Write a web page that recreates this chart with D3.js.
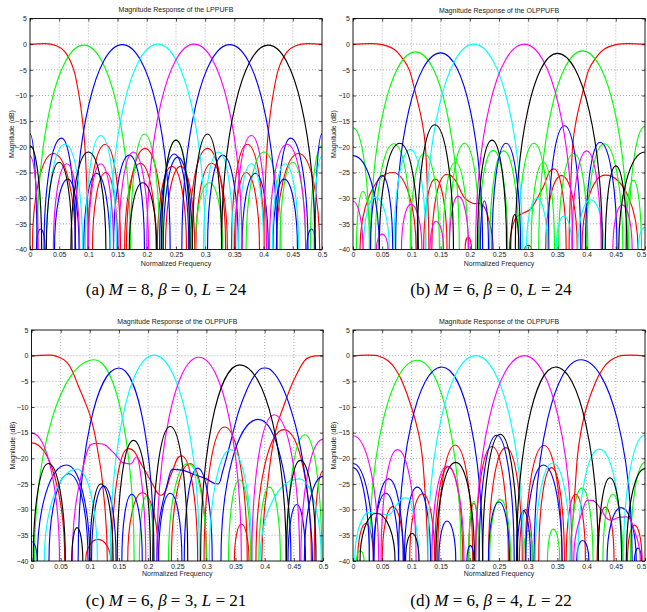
<!DOCTYPE html>
<html><head><meta charset="utf-8">
<script src="https://cdn.jsdelivr.net/npm/d3@7"></script>
<style>
body{margin:0;background:#fff}
svg{display:block}
.tk text{font-family:"Liberation Sans",Arial,sans-serif;font-size:7px;fill:#222}
.lbl{font-family:"Liberation Sans",Arial,sans-serif;font-size:7px;fill:#222}
.cap{font-family:"Liberation Serif","Times New Roman",serif;font-size:17px;fill:#000}
</style></head><body>
<svg id="chart" width="647" height="612"></svg>
<script>
// ---------- axis ticks ----------
const freqTicks = [0,0.05,0.1,0.15,0.2,0.25,0.3,0.35,0.4,0.45,0.5];
const freqTickLabels = ["0","0.05","0.1","0.15","0.2","0.25","0.3","0.35","0.4","0.45","0.5"];
const dbTicks = [5,0,-5,-10,-15,-20,-25,-30,-35,-40];
const dbTickLabels = ["5","0","\u22125","\u221210","\u221215","\u221220","\u221225","\u221230","\u221235","\u221240"];
const titles = ["Magnitude Response of the LPPUFB","Magnitude Response of the OLPPUFB","Magnitude Response of the OLPPUFB","Magnitude Response of the OLPPUFB"];
const panelLetters = ["a","b","c","d"];
const paramM = ["8","6","6","6"];
const paramBeta = ["0","0","3","4"];
const paramL = ["24","24","21","22"];
const seriesColors = {red:"#ff0000",green:"#00ff00",blue:"#0000ff",cyan:"#00ffff",magenta:"#ff00ff",black:"#000000"};

// ---------- data: each lobe = list of [normalized frequency, dB]; -40 = drops below floor ----------
// Panel (a)
const aRed = [
 [[0,0],[0.025,0.1],[0.045,-0.3],[0.06,-1.5],[0.075,-5],[0.084,-10],[0.09,-15],[0.094,-20],[0.098,-30],[0.1,-40]],
 [[0.004,-40],[0.04,-21.3],[0.078,-40]],
 [[0.099,-40],[0.129,-19.5],[0.155,-40]],
 [[0.107,-40],[0.13,-25],[0.15,-40]],
 [[0.162,-40],[0.189,-23.2],[0.216,-40]],
 [[0.165,-40],[0.197,-20.3],[0.228,-40]],
 [[0.218,-40],[0.243,-23.8],[0.268,-40]],
 [[0.232,-40],[0.258,-23.8],[0.282,-40]],
 [[0.272,-40],[0.304,-20.3],[0.335,-40]],
 [[0.284,-40],[0.311,-23.2],[0.338,-40]],
 [[0.35,-40],[0.37,-25],[0.393,-40]],
 [[0.345,-40],[0.372,-19.5],[0.401,-40]],
 [[0.422,-40],[0.46,-21.3],[0.496,-40]],
 [[0.4,-40],[0.402,-30],[0.406,-20],[0.41,-15],[0.416,-10],[0.425,-5],[0.44,-1.5],[0.455,-0.3],[0.475,0.1],[0.5,0]]
];
const aGreen = [
 [[0.012,-40],[0.092,-0.2],[0.172,-40]],
 [[0.172,-40],[0.196,-17.5],[0.222,-40]],
 [[0.226,-40],[0.25,-18.7],[0.275,-40]],
 [[0.283,-40],[0.307,-27],[0.33,-40]],
 [[0.37,-40],[0.401,-21],[0.43,-40]],
 [[0.428,-40],[0.45,-23],[0.472,-40]],
 [[0.48,-40],[0.5,-19.8]]
];
const aBlue = [
 [[0,-17.5],[0.012,-40]],
 [[0.011,-40],[0.018,-36],[0.026,-40]],
 [[0.024,-40],[0.054,-18.3],[0.078,-40]],
 [[0.042,-40],[0.065,-26.3],[0.084,-40]],
 [[0.077,-40],[0.158,-0.1],[0.24,-40]],
 [[0.092,-40],[0.114,-25.2],[0.137,-40]],
 [[0.143,-40],[0.17,-21.6],[0.196,-40]],
 [[0.222,-40],[0.247,-21.4],[0.272,-40]],
 [[0.228,-40],[0.253,-22],[0.278,-40]],
 [[0.26,-40],[0.342,-0.1],[0.423,-40]],
 [[0.304,-40],[0.33,-21.6],[0.357,-40]],
 [[0.363,-40],[0.386,-25.2],[0.408,-40]],
 [[0.416,-40],[0.435,-26.3],[0.458,-40]],
 [[0.422,-40],[0.446,-18.3],[0.476,-40]],
 [[0.474,-40],[0.482,-36],[0.489,-40]],
 [[0.488,-40],[0.5,-17.5]]
];
const aCyan = [
 [[0.028,-40],[0.06,-19.5],[0.09,-40]],
 [[0.095,-40],[0.121,-17.8],[0.148,-40]],
 [[0.137,-40],[0.219,0],[0.3,-40]],
 [[0.297,-40],[0.323,-21],[0.348,-40]],
 [[0.357,-40],[0.379,-23.3],[0.4,-40]],
 [[0.415,-40],[0.437,-23.3],[0.46,-40]],
 [[0.486,-40],[0.5,-21.8]]
];
const aMagenta = [
 [[0,-21.8],[0.014,-40]],
 [[0.04,-40],[0.063,-23.3],[0.085,-40]],
 [[0.1,-40],[0.121,-23.3],[0.143,-40]],
 [[0.152,-40],[0.177,-21],[0.203,-40]],
 [[0.2,-40],[0.281,0],[0.363,-40]],
 [[0.352,-40],[0.379,-17.8],[0.405,-40]],
 [[0.41,-40],[0.44,-19.5],[0.472,-40]]
];
const aBlack = [
 [[0,-19.8],[0.02,-40]],
 [[0.028,-40],[0.05,-23],[0.072,-40]],
 [[0.07,-40],[0.1,-21],[0.13,-40]],
 [[0.17,-40],[0.193,-27],[0.217,-40]],
 [[0.225,-40],[0.25,-18.7],[0.274,-40]],
 [[0.278,-40],[0.304,-17.5],[0.328,-40]],
 [[0.328,-40],[0.408,-0.2],[0.488,-40]]
];
// Panel (b)
const bRed = [
 [[0,0],[0.03,0.1],[0.05,-0.1],[0.07,-1],[0.085,-2.8],[0.097,-5.2],[0.108,-10],[0.118,-15],[0.124,-20],[0.128,-30],[0.13,-40]],
 [[0.012,-40],[0.068,-25],[0.108,-40]],
 [[0.121,-40],[0.141,-26.3],[0.161,-40]],
 [[0.135,-40],[0.16,-25.4],[0.175,-26.5],[0.19,-29.8],[0.205,-31],[0.222,-31.3],[0.232,-34],[0.24,-40]],
 [[0.192,-40],[0.197,-37.6],[0.203,-40]],
 [[0.268,-40],[0.276,-34.5],[0.29,-33],[0.305,-32],[0.325,-28],[0.344,-24.3],[0.365,-40]],
 [[0.294,-40],[0.3,-39.2],[0.306,-40]],
 [[0.33,-40],[0.357,-25.6],[0.384,-40]],
 [[0.392,-40],[0.432,-25.5],[0.488,-40]],
 [[0.37,-40],[0.372,-30],[0.376,-20],[0.382,-15],[0.392,-10],[0.403,-5.2],[0.415,-2.8],[0.43,-1],[0.45,-0.1],[0.47,0.1],[0.5,0]]
];
const bGreen = [
 [[0,-16.3],[0.028,-40]],
 [[0.006,-40],[0.017,-28.7],[0.03,-40]],
 [[0.03,-40],[0.107,-1.5],[0.182,-40]],
 [[0.038,-40],[0.07,-19.4],[0.1,-40]],
 [[0.098,-40],[0.122,-21.3],[0.148,-40]],
 [[0.154,-40],[0.175,-23],[0.197,-40]],
 [[0.165,-40],[0.191,-19.3],[0.217,-40]],
 [[0.215,-40],[0.24,-20.7],[0.265,-40]],
 [[0.234,-40],[0.258,-20.8],[0.284,-40]],
 [[0.283,-40],[0.31,-19.3],[0.336,-40]],
 [[0.305,-40],[0.326,-23],[0.345,-40]],
 [[0.318,-40],[0.393,-1.3],[0.47,-40]],
 [[0.352,-40],[0.378,-21.3],[0.402,-40]],
 [[0.4,-40],[0.43,-19.4],[0.462,-40]],
 [[0.467,-40],[0.48,-26.5],[0.494,-40]],
 [[0.472,-40],[0.5,-16]]
];
const bBlue = [
 [[0,-21.7],[0.045,-40]],
 [[0.03,-40],[0.05,-25.6],[0.068,-40]],
 [[0.073,-40],[0.15,-1.7],[0.222,-40]],
 [[0.218,-40],[0.225,-30.5],[0.232,-40]],
 [[0.238,-40],[0.262,-19.3],[0.287,-40]],
 [[0.334,-40],[0.362,-15.9],[0.39,-40]],
 [[0.398,-40],[0.423,-19.1],[0.452,-40]]
];
const bCyan = [
 [[0.018,-40],[0.038,-29.8],[0.062,-40]],
 [[0.07,-40],[0.098,-20.5],[0.125,-40]],
 [[0.124,-40],[0.207,0],[0.29,-40]],
 [[0.297,-40],[0.315,-30],[0.333,-40]],
 [[0.348,-40],[0.361,-33.5],[0.375,-40]],
 [[0.385,-40],[0.407,-30.3],[0.43,-40]],
 [[0.488,-40],[0.5,-35.7]]
];
const bMagenta = [
 [[0,-30.6],[0.017,-40]],
 [[0.04,-40],[0.05,-37],[0.06,-40]],
 [[0.083,-40],[0.099,-31.2],[0.118,-40]],
 [[0.132,-40],[0.142,-34.5],[0.155,-40]],
 [[0.165,-40],[0.18,-29.6],[0.198,-40]],
 [[0.21,-40],[0.293,0],[0.376,-40]],
 [[0.375,-40],[0.4,-20.8],[0.425,-40]],
 [[0.445,-40],[0.461,-31.3],[0.478,-40]]
];
const bBlack = [
 [[0.045,-40],[0.08,-19.3],[0.112,-40]],
 [[0.11,-40],[0.14,-15.7],[0.172,-40]],
 [[0.213,-40],[0.238,-18.7],[0.263,-40]],
 [[0.27,-40],[0.277,-33.2],[0.284,-40]],
 [[0.278,-40],[0.35,-1.8],[0.427,-40]],
 [[0.432,-40],[0.45,-23.7],[0.469,-40]],
 [[0.455,-40],[0.5,-21]]
];
// Panel (c)
const cRed = [
 [[0,0],[0.03,0.1],[0.045,-0.2],[0.06,-1.2],[0.07,-3],[0.08,-5.8],[0.09,-8.5],[0.1,-11.5],[0.108,-15],[0.115,-19.5],[0.122,-25],[0.13,-40]],
 [[0,-17],[0.057,-40]],
 [[0.093,-40],[0.114,-35.8],[0.136,-40]],
 [[0.138,-40],[0.166,-18.1],[0.19,-21.5],[0.21,-25.5],[0.222,-27.2],[0.24,-23],[0.257,-19.5],[0.285,-40]],
 [[0.165,-40],[0.19,-26.7],[0.218,-40]],
 [[0.24,-40],[0.272,-21],[0.3,-40]],
 [[0.296,-40],[0.331,-13.9],[0.37,-40]],
 [[0.348,-40],[0.36,-32.8],[0.373,-40]],
 [[0.385,-40],[0.433,-14.4],[0.48,-40]],
 [[0.485,-40],[0.5,-22.5]],
 [[0.395,-40],[0.405,-25],[0.418,-15],[0.432,-10],[0.449,-5],[0.468,-1],[0.48,-0.2],[0.5,0]]
];
const cGreen = [
 [[0.005,-40],[0.108,-0.8],[0.176,-40]],
 [[0.185,-40],[0.197,-27.3],[0.21,-40]],
 [[0.235,-40],[0.268,-21],[0.3,-40]],
 [[0.338,-40],[0.357,-24.2],[0.376,-40]],
 [[0.39,-40],[0.408,-25.6],[0.427,-40]],
 [[0.438,-40],[0.469,-15.4],[0.498,-40]]
];
const cBlue = [
 [[0,-36.2],[0.01,-40]],
 [[0.01,-40],[0.06,-21.3],[0.1,-40]],
 [[0.03,-40],[0.064,-23],[0.097,-40]],
 [[0.08,-40],[0.15,-2.4],[0.21,-40]],
 [[0.103,-40],[0.124,-25.4],[0.145,-40]],
 [[0.155,-40],[0.172,-27],[0.19,-40]],
 [[0.218,-40],[0.238,-26.8],[0.258,-40]],
 [[0.215,-40],[0.235,-24],[0.25,-22.2],[0.28,-23.2],[0.3,-24],[0.32,-25],[0.328,-22.5],[0.34,-17.5],[0.355,-11],[0.37,-6.5],[0.385,-3.5],[0.4,-2.4],[0.415,-3.3],[0.43,-6],[0.445,-10.5],[0.458,-16],[0.47,-24],[0.478,-32],[0.482,-40]],
 [[0.262,-40],[0.285,-21.9],[0.31,-40]],
 [[0.325,-40],[0.389,-12.4],[0.445,-40]],
 [[0.44,-40],[0.455,-29],[0.47,-40]],
 [[0.468,-40],[0.5,-23.5]]
];
const cCyan = [
 [[0.022,-40],[0.078,-22.1],[0.113,-40]],
 [[0.135,-40],[0.21,0.1],[0.288,-40]],
 [[0.305,-40],[0.342,-18.3],[0.378,-40]],
 [[0.392,-40],[0.459,-24],[0.497,-40]]
];
const cMagenta = [
 [[0,-15.1],[0.048,-40]],
 [[0.07,-40],[0.09,-21],[0.115,-17.1],[0.14,-18.8],[0.155,-20.7],[0.17,-21.1],[0.185,-21.4],[0.196,-40]],
 [[0.215,-40],[0.287,-0.3],[0.36,-40]],
 [[0.378,-40],[0.416,-11.5],[0.46,-40]],
 [[0.462,-40],[0.5,-16.3]]
];
const cBlack = [
 [[0.003,-40],[0.029,-21],[0.058,-40]],
 [[0.069,-40],[0.078,-33.5],[0.088,-40]],
 [[0.1,-40],[0.119,-25],[0.14,-40]],
 [[0.147,-40],[0.175,-16.5],[0.204,-40]],
 [[0.208,-40],[0.238,-13.8],[0.268,-40]],
 [[0.29,-40],[0.357,-1.8],[0.437,-40]],
 [[0.437,-40],[0.461,-20.4],[0.488,-40]]
];
// Panel (d)
const dRed = [
 [[0,0],[0.025,0.1],[0.045,-0.1],[0.06,-1],[0.072,-2.5],[0.084,-5],[0.1,-10],[0.112,-15],[0.119,-20],[0.125,-30],[0.128,-40]],
 [[0.008,-40],[0.022,-32.7],[0.035,-40]],
 [[0.05,-40],[0.068,-29.4],[0.087,-40]],
 [[0.097,-40],[0.119,-26.9],[0.14,-40]],
 [[0.14,-40],[0.163,-21.6],[0.188,-40]],
 [[0.145,-40],[0.175,-17.4],[0.205,-40]],
 [[0.198,-40],[0.207,-28.8],[0.216,-40]],
 [[0.21,-40],[0.238,-17.7],[0.266,-40]],
 [[0.232,-40],[0.262,-17.9],[0.29,-40]],
 [[0.285,-40],[0.296,-30],[0.307,-40]],
 [[0.295,-40],[0.327,-17.5],[0.358,-40]],
 [[0.318,-40],[0.34,-21.8],[0.362,-40]],
 [[0.365,-40],[0.381,-27],[0.398,-40]],
 [[0.418,-40],[0.432,-29.5],[0.447,-40]],
 [[0.47,-40],[0.482,-33],[0.495,-40]],
 [[0.372,-40],[0.378,-30],[0.384,-20],[0.39,-15],[0.4,-10],[0.416,-5],[0.428,-2.5],[0.44,-1],[0.455,-0.1],[0.475,0.1],[0.5,0]]
];
const dGreen = [
 [[0.006,-40],[0.012,-38],[0.019,-40]],
 [[0.028,-40],[0.11,-0.9],[0.185,-40]],
 [[0.198,-40],[0.207,-28.4],[0.216,-40]],
 [[0.234,-40],[0.252,-28],[0.27,-40]],
 [[0.292,-40],[0.3,-34],[0.308,-40]],
 [[0.333,-40],[0.343,-33.8],[0.354,-40]],
 [[0.373,-40],[0.392,-25.8],[0.411,-40]],
 [[0.428,-40],[0.445,-27],[0.462,-40]],
 [[0.475,-40],[0.5,-20.8]]
];
const dBlue = [
 [[0,-21],[0.035,-40]],
 [[0,-21.8],[0.028,-40]],
 [[0.036,-40],[0.061,-24],[0.086,-40]],
 [[0.035,-40],[0.056,-26.8],[0.078,-40]],
 [[0.078,-40],[0.152,-2.2],[0.222,-40]],
 [[0.088,-40],[0.11,-25.6],[0.133,-40]],
 [[0.147,-40],[0.161,-32.2],[0.176,-40]],
 [[0.195,-40],[0.201,-37],[0.207,-40]],
 [[0.216,-40],[0.246,-15.5],[0.276,-40]],
 [[0.232,-40],[0.25,-28.5],[0.268,-40]],
 [[0.281,-40],[0.292,-30.2],[0.304,-40]],
 [[0.296,-40],[0.326,-21.3],[0.358,-40]],
 [[0.31,-40],[0.39,-0.8],[0.478,-40]],
 [[0.383,-40],[0.393,-36],[0.404,-40]],
 [[0.435,-40],[0.459,-29.6],[0.485,-40]],
 [[0.482,-40],[0.488,-37.5],[0.494,-40]]
];
const dCyan = [
 [[0.003,-40],[0.015,-32],[0.04,-30.7],[0.06,-31],[0.075,-29],[0.089,-27.7],[0.102,-30],[0.113,-40]],
 [[0.128,-40],[0.21,0],[0.292,-40]],
 [[0.312,-40],[0.342,-20.9],[0.372,-40]],
 [[0.385,-40],[0.422,-18.2],[0.46,-40]],
 [[0.463,-40],[0.5,-15.5]]
];
const dMagenta = [
 [[0,-15.6],[0.044,-40]],
 [[0.048,-40],[0.076,-18.3],[0.108,-40]],
 [[0.135,-40],[0.161,-21.5],[0.19,-40]],
 [[0.21,-40],[0.293,0],[0.375,-40]],
 [[0.378,-40],[0.395,-29.5],[0.408,-28.2],[0.425,-30],[0.44,-32],[0.455,-31.5],[0.468,-31.4],[0.48,-33.5],[0.492,-40]]
];
const dBlack = [
 [[0.012,-40],[0.04,-30.7],[0.072,-40]],
 [[0.09,-40],[0.101,-34.6],[0.113,-40]],
 [[0.142,-40],[0.176,-20.8],[0.208,-40]],
 [[0.222,-40],[0.252,-15.3],[0.282,-40]],
 [[0.28,-40],[0.347,-2.2],[0.42,-40]],
 [[0.42,-40],[0.44,-23.8],[0.46,-40]],
 [[0.468,-40],[0.5,-22]]
];

const panelSeries = [
 [["red",aRed],["green",aGreen],["blue",aBlue],["cyan",aCyan],["magenta",aMagenta],["black",aBlack]],
 [["red",bRed],["green",bGreen],["blue",bBlue],["cyan",bCyan],["magenta",bMagenta],["black",bBlack]],
 [["red",cRed],["green",cGreen],["blue",cBlue],["cyan",cCyan],["magenta",cMagenta],["black",cBlack]],
 [["red",dRed],["green",dGreen],["blue",dBlue],["cyan",dCyan],["magenta",dMagenta],["black",dBlack]]
];

// ---------- layout ----------
const layout = [
 {left:30, right:322, top:18.5, bottom:249.5, titleY:10.5, xlabY:264, ylabX:12, capX:166, capY:295},
 {left:353, right:645, top:18.5, bottom:249.5, titleY:11.5, xlabY:264, ylabX:334, capX:491, capY:295},
 {left:31.5, right:323, top:330, bottom:561, titleY:322, xlabY:574, ylabX:13, capX:166, capY:606},
 {left:353, right:645, top:330, bottom:561, titleY:322, xlabY:574, ylabX:334.5, capX:491, capY:606}
];
const FLOOR = -40;
const W = 647;

const svg = d3.select("#chart");
const defs = svg.append("defs");

// path with vertical tangents at floor nulls and horizontal tangents at extrema
function lobePath(pts, x, y) {
  const P = pts.map(([f, d]) => [x(f), y(Math.max(d, FLOOR)), d]);
  const n = P.length, K = 0.5523;
  const tan = P.map((p, i) => {
    if (p[2] <= FLOOR) return "v";
    if (i === 0 || i === n - 1) return "h";
    const a = P[i - 1][2], b = P[i + 1][2];
    if ((p[2] - a) * (b - p[2]) <= 0) return "h";
    return (P[i + 1][1] - P[i - 1][1]) / (P[i + 1][0] - P[i - 1][0]);
  });
  let s = "M" + P[0][0].toFixed(2) + "," + P[0][1].toFixed(2);
  for (let i = 0; i < n - 1; i++) {
    const [x0, y0] = P[i], [x1, y1] = P[i + 1];
    const dx = x1 - x0, dy = y1 - y0;
    let c1, c2;
    const t0 = tan[i], t1 = tan[i + 1];
    if (t0 === "v") c1 = [x0, y0 + K * dy];
    else if (t0 === "h") c1 = [x0 + K * dx, y0];
    else c1 = [x0 + dx / 3, y0 + t0 * dx / 3];
    if (t1 === "v") c2 = [x1, y1 - K * dy];
    else if (t1 === "h") c2 = [x1 - K * dx, y1];
    else c2 = [x1 - dx / 3, y1 - t1 * dx / 3];
    s += "C" + c1.map(v => v.toFixed(2)).join(",") + " " + c2.map(v => v.toFixed(2)).join(",") + " " + x1.toFixed(2) + "," + y1.toFixed(2);
  }
  return s;
}

layout.forEach((L, pi) => {
  const g = svg.append("g");
  const x = d3.scaleLinear().domain([0, 0.5]).range([L.left, L.right]);
  const y = d3.scaleLinear().domain([-40, 5]).range([L.bottom, L.top]);

  // grid
  g.append("g").selectAll("line").data(freqTicks.slice(1, -1)).join("line")
    .attr("x1", d => x(d)).attr("x2", d => x(d)).attr("y1", L.top).attr("y2", L.bottom)
    .attr("stroke", "#777").attr("stroke-width", 0.6).attr("stroke-dasharray", "1,2");
  g.append("g").selectAll("line").data(dbTicks.slice(1, -1)).join("line")
    .attr("y1", d => y(d)).attr("y2", d => y(d)).attr("x1", L.left).attr("x2", L.right)
    .attr("stroke", "#777").attr("stroke-width", 0.6).attr("stroke-dasharray", "1,2");

  // clip
  const cid = "clip" + pi;
  defs.append("clipPath").attr("id", cid).append("rect")
    .attr("x", L.left).attr("y", L.top).attr("width", L.right - L.left).attr("height", L.bottom - L.top);

  const cg = g.append("g").attr("clip-path", `url(#${cid})`);
  panelSeries[pi].forEach(([col, lobes]) => {
    cg.append("g").selectAll("path").data(lobes).join("path")
      .attr("d", d => lobePath(d, x, y))
      .attr("fill", "none").attr("stroke", seriesColors[col]).attr("stroke-width", 1.15);
  });

  // axes (ticks inward, mirrored)
  const ax = (a) => a.tickSizeOuter(0);
  const bottom = g.append("g").attr("class", "tk").attr("transform", `translate(0,${L.bottom})`)
    .call(ax(d3.axisBottom(x).tickValues(freqTicks).tickFormat((d, i) => freqTickLabels[i]).tickSizeInner(-3).tickPadding(3)));
  const top = g.append("g").attr("class", "tk").attr("transform", `translate(0,${L.top})`)
    .call(ax(d3.axisTop(x).tickValues(freqTicks).tickFormat("").tickSizeInner(-3)));
  const left = g.append("g").attr("class", "tk").attr("transform", `translate(${L.left},0)`)
    .call(ax(d3.axisLeft(y).tickValues(dbTicks).tickFormat((d, i) => dbTickLabels[i]).tickSizeInner(-3).tickPadding(3)));
  const right = g.append("g").attr("class", "tk").attr("transform", `translate(${L.right},0)`)
    .call(ax(d3.axisRight(y).tickValues(dbTicks).tickFormat("").tickSizeInner(-3)));
  [bottom, top, left, right].forEach(a => {
    a.select(".domain").remove();
    a.selectAll("line").attr("stroke", "#000").attr("stroke-width", 0.7);
  });
  // keep the last frequency label inside the page
  if (L.right + 5 > W) {
    bottom.selectAll(".tick").filter(d => d === 0.5).select("text")
      .attr("text-anchor", "end").attr("x", W - 1 - L.right);
  }

  g.append("rect").attr("x", L.left).attr("y", L.top).attr("width", L.right - L.left).attr("height", L.bottom - L.top)
    .attr("fill", "none").attr("stroke", "#000").attr("stroke-width", 0.9);

  // texts
  g.append("text").attr("class", "lbl").attr("x", (L.left + L.right) / 2).attr("y", L.titleY)
    .attr("text-anchor", "middle").attr("dominant-baseline", "middle").text(titles[pi]);
  g.append("text").attr("class", "lbl").attr("x", (L.left + L.right) / 2).attr("y", L.xlabY)
    .attr("text-anchor", "middle").attr("dominant-baseline", "middle").text("Normalized Frequency");
  g.append("text").attr("class", "lbl")
    .attr("transform", `translate(${L.ylabX},${(L.top + L.bottom) / 2}) rotate(-90)`)
    .attr("text-anchor", "middle").attr("dominant-baseline", "middle").text("Magnitude (dB)");

  const cap = g.append("text").attr("class", "cap").attr("x", L.capX).attr("y", L.capY).attr("text-anchor", "middle");
  cap.append("tspan").text(`(${panelLetters[pi]}) `);
  cap.append("tspan").attr("font-style", "italic").text("M");
  cap.append("tspan").text(` = ${paramM[pi]},  `);
  cap.append("tspan").attr("font-style", "italic").text("\u03b2");
  cap.append("tspan").text(` = ${paramBeta[pi]},  `);
  cap.append("tspan").attr("font-style", "italic").text("L");
  cap.append("tspan").text(` = ${paramL[pi]}`);
});
</script>
</body></html>
